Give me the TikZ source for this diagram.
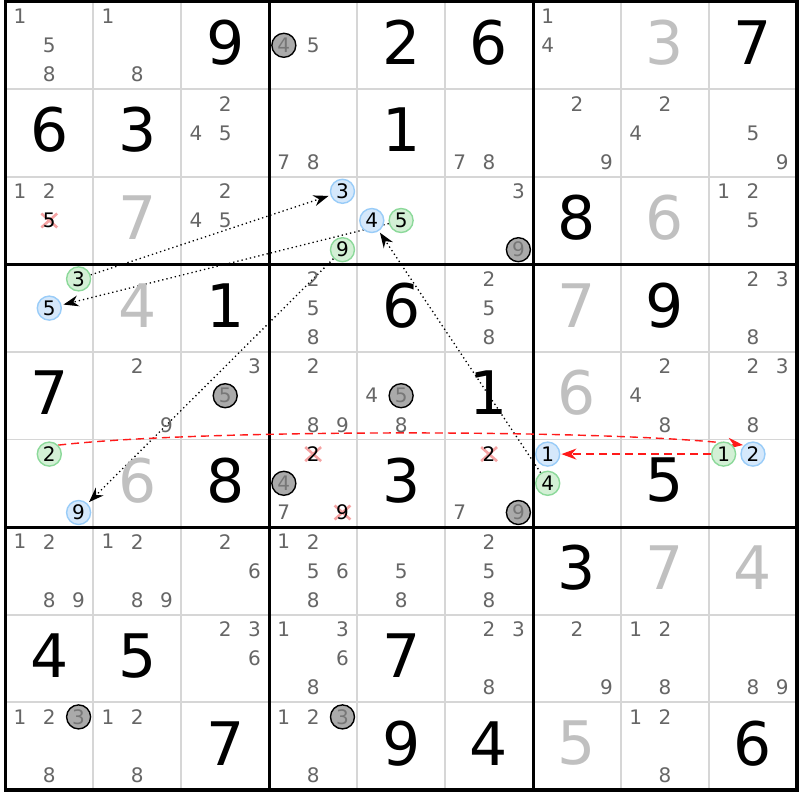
\documentclass[tikz,border=0pt]{standalone}
\usepackage{fontspec}
\setmainfont{DejaVu Sans}
\usepackage{tikz}
\usetikzlibrary{arrows.meta}
\pgfdeclarelayer{back}
\pgfdeclarelayer{links}
\pgfsetlayers{back,links,main}
\definecolor{candgray}{HTML}{666666}
\definecolor{givengray}{HTML}{C0C0C0}
\definecolor{gridgray}{HTML}{D6D6D6}
\definecolor{ringgray}{HTML}{AAAAAA}
\definecolor{ringtext}{HTML}{777777}
\definecolor{bluefill}{HTML}{D5E8FB}
\definecolor{blueline}{HTML}{99CCF8}
\definecolor{greenfill}{HTML}{D3F0D5}
\definecolor{greenline}{HTML}{8CD99A}
\definecolor{crosspink}{HTML}{F5A3A3}
\definecolor{linkred}{HTML}{FF1A1A}

\begin{document}
\begin{tikzpicture}[x=29.32pt, y=-29.2pt]
	\tikzstyle{cand}=[text=candgray, inner sep=0pt, font=\fontsize{20pt}{20pt}\selectfont]
	\tikzstyle{given}=[inner sep=0pt, font=\fontsize{60pt}{60pt}\selectfont]
	\tikzstyle{ring}=[cand, circle, minimum size=24pt, line width=1.4pt]
	\tikzstyle{grayring}=[ring, draw=black, fill=ringgray, text=ringtext]
	\tikzstyle{bluering}=[ring, draw=blueline, fill=bluefill, text=black]
	\tikzstyle{greenring}=[ring, draw=greenline, fill=greenfill, text=black]
	\tikzstyle{xmark}=[crosspink, line width=2.6pt]
	\tikzstyle{dotlink}=[line width=1.3pt, dash pattern=on 1.3pt off 3pt, -{Stealth[length=15pt, width=11pt]}, shorten >=2pt]
	\tikzstyle{redlink}=[linkred, line width=1.4pt, dash pattern=on 8pt off 5pt, -{Stealth[length=15pt, width=11pt]}, shorten >=1pt]
	\useasboundingbox (-5.3pt,1.5pt) rectangle (794.7pt,-798.5pt);

	%========================================================================
	% Grid
	\begin{pgfonlayer}{back}
		\fill[white] (-5.3pt,1.5pt) rectangle (794.7pt,-798.5pt);
		\foreach \i in {3,6,12,15,21,24} {
			\draw[gridgray, line width=1.8pt] (\i,0) -- (\i,27);
			\draw[gridgray, line width=1.8pt] (0,\i) -- (27,\i);
		}
		\foreach \i in {9,18} {
			\draw[line width=3pt] (\i,0) -- (\i,27);
			\draw[line width=3pt] (0,\i) -- (27,\i);
		}
		\draw[line width=3.2pt] (0,0) rectangle (27,27);
	\end{pgfonlayer}

	%========================================================================
	% Givens
	\foreach \r/\c/\d in {1/3/9, 1/5/2, 1/6/6, 1/9/7, 2/1/6, 2/2/3, 2/5/1, 3/7/8,
		4/3/1, 4/5/6, 4/8/9, 5/1/7, 5/6/1, 6/3/8, 6/5/3, 6/8/5, 7/7/3,
		8/1/4, 8/2/5, 8/5/7, 9/3/7, 9/5/9, 9/6/4, 9/9/6}
		\node[given] (g\r\c) at ({3*\c-1.5}, {3*\r-1.6}) {\d};
	\foreach \r/\c/\d in {1/8/3, 3/2/7, 3/8/6, 4/2/4, 4/7/7, 5/7/6, 6/2/6, 7/8/7, 7/9/4, 9/7/5}
		\node[given, text=givengray] (g\r\c) at ({3*\c-1.5}, {3*\r-1.6}) {\d};

	%========================================================================
	% Candidates
	\foreach \r/\c/\d in {1/1/1, 1/1/5, 1/1/8, 1/2/1, 1/2/8, 1/4/5, 1/7/1, 1/7/4,
		2/3/2, 2/3/4, 2/3/5, 2/4/7, 2/4/8, 2/6/7, 2/6/8, 2/7/2, 2/7/9, 2/8/2, 2/8/4, 2/9/5, 2/9/9,
		3/1/1, 3/1/2, 3/3/2, 3/3/4, 3/3/5, 3/6/3, 3/9/1, 3/9/2, 3/9/5,
		4/4/2, 4/4/5, 4/4/8, 4/6/2, 4/6/5, 4/6/8, 4/9/2, 4/9/3, 4/9/8,
		5/2/2, 5/2/9, 5/3/3, 5/4/2, 5/4/8, 5/4/9, 5/5/4, 5/5/8, 5/8/2, 5/8/4, 5/8/8, 5/9/2, 5/9/3, 5/9/8,
		6/4/7, 6/6/7,
		7/1/1, 7/1/2, 7/1/8, 7/1/9, 7/2/1, 7/2/2, 7/2/8, 7/2/9, 7/3/2, 7/3/6,
		7/4/1, 7/4/2, 7/4/5, 7/4/6, 7/4/8, 7/5/5, 7/5/8, 7/6/2, 7/6/5, 7/6/8,
		8/3/2, 8/3/3, 8/3/6, 8/4/1, 8/4/3, 8/4/6, 8/4/8, 8/6/2, 8/6/3, 8/6/8,
		8/7/2, 8/7/9, 8/8/1, 8/8/2, 8/8/8, 8/9/8, 8/9/9,
		9/1/1, 9/1/2, 9/1/8, 9/2/1, 9/2/2, 9/2/8, 9/4/1, 9/4/2, 9/4/8, 9/8/1, 9/8/2, 9/8/8}
		\node[cand] (n\r\c\d) at ({3*\c-2.5+mod(\d-1,3)}, {3*\r-2.5+floor((\d-1)/3)}) {\d};

	% eliminated
	\foreach \x/\y in {1.5/7.5, 10.5/15.5, 11.5/17.5, 16.5/15.5}
		\draw[xmark] (\x,\y) +(-.27,-.24) -- +(.27,.24) +(-.27,.24) -- +(.27,-.24);
	\node[cand, text=black] (n315) at (1.5,7.5) {5};
	\node[cand, text=black] (n642) at (10.5,15.5) {2};
	\node[cand, text=black] (n649) at (11.5,17.5) {9};
	\node[cand, text=black] (n662) at (16.5,15.5) {2};

	% gray
	\node[grayring] (n144) at (9.5,1.5) {4};
	\node[grayring] (n369) at (17.5,8.5) {9};
	\node[grayring] (n535) at (7.5,13.5) {5};
	\node[grayring] (n555) at (13.5,13.5) {5};
	\node[grayring] (n644) at (9.5,16.5) {4};
	\node[grayring] (n669) at (17.5,17.5) {9};
	\node[grayring] (n913) at (2.5,24.5) {3};
	\node[grayring] (n943) at (11.5,24.5) {3};

	% chain
	\node[greenring] (n413) at (2.5,9.5) {3};
	\node[bluering] (n343) at (11.5,6.5) {3};
	\node[greenring] (n355) at (13.5,7.5) {5};
	\node[bluering] (n415) at (1.5,10.5) {5};
	\node[greenring] (n349) at (11.5,8.5) {9};
	\node[bluering] (n619) at (2.5,17.5) {9};
	\node[greenring] (n674) at (18.5,16.5) {4};
	\node[bluering] (n354) at (12.5,7.5) {4};
	\node[greenring] (n612) at (1.5,15.5) {2};
	\node[bluering] (n692) at (25.5,15.5) {2};
	\node[greenring] (n691) at (24.5,15.5) {1};
	\node[bluering] (n671) at (18.5,15.5) {1};

	%========================================================================
	% Arrows
	\begin{pgfonlayer}{links}
		\draw[dotlink] (n413) -- (n343);
		\draw[dotlink] (n355) -- (n415);
		\draw[dotlink] (n349) -- (n619);
		\draw[dotlink] (n674) -- (n354);
		\draw[redlink] (n612.north east) .. controls +(4.8,-.55) and +(-4.8,-.55) .. (n692.north west);
		\draw[redlink] (n691) -- (n671);
	\end{pgfonlayer}
\end{tikzpicture}
\end{document}
